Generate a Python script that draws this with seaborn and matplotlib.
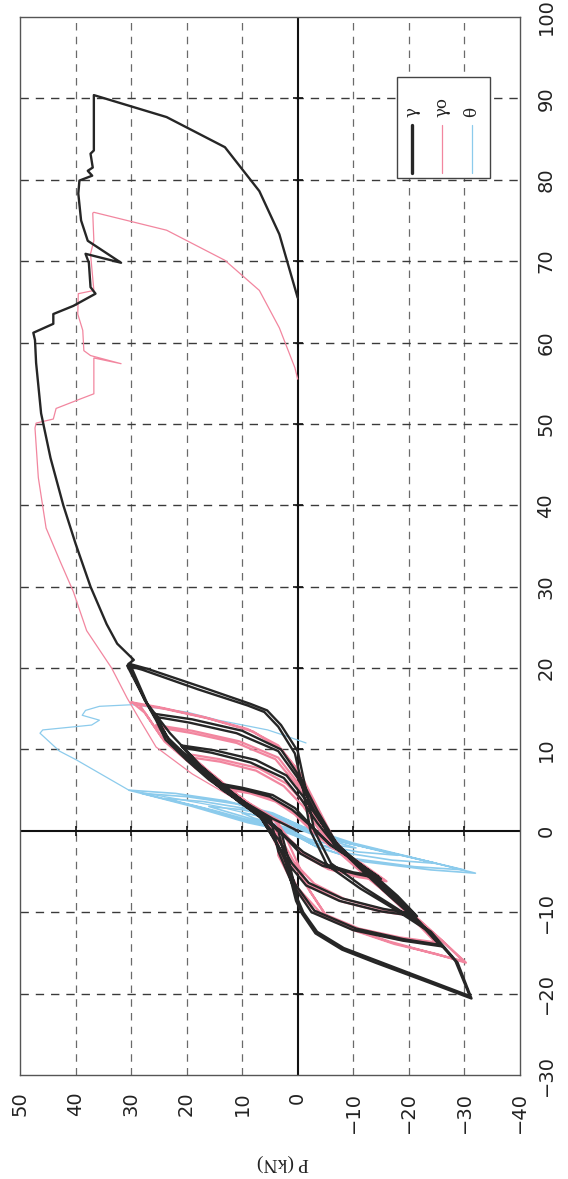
import numpy as np
import pandas as pd
import matplotlib
matplotlib.use("Agg")
import matplotlib.pyplot as plt
import seaborn as sns
from matplotlib.patches import Rectangle

# ---------------- data (displacement, load P in kN) ----------------
disp_ticks = [-30, -20, -10, 0, 10, 20, 30, 40, 50, 60, 70, 80, 90, 100]
load_ticks = [50, 40, 30, 20, 10, 0, -10, -20, -30, -40]

# gamma (black): cyclic loops, then monotonic envelope and unloading
gamma_c1 = [(0, 0), (1.5, 4.5), (3.5, 9.5), (5.5, 13.5), (5.1, 10), (4.2, 5), (2.6, 1), (0.8, -2),
            (-1.5, -5.5), (-3.5, -10), (-5.6, -14.5), (-5.1, -10), (-4.1, -5), (-2.6, -1), (-0.8, 2)]
gamma_c2 = [(1.5, 5.5), (3.6, 10), (5.8, 14), (5.3, 10), (4.4, 4.5), (2.8, 0.5), (0.6, -2.5),
            (-1.8, -6), (-3.8, -10.5), (-5.9, -15), (-5.3, -10.5), (-4.3, -4.5), (-2.8, -0.5), (-0.6, 2.5)]
gamma_c3 = [(2, 6.5), (5, 12.5), (8, 17.5), (10.2, 20.5), (9.6, 15.5), (8.4, 8.5), (6.5, 2.5), (4, -0.5),
            (1, -3.5), (-2, -7), (-5, -12.5), (-8, -17.5), (-10.2, -21), (-9.6, -15.5), (-8.3, -8),
            (-6.4, -2), (-4, 1), (-1, 3.5)]
gamma_c4 = [(2, 7), (5, 13), (8, 18), (10.5, 21), (9.9, 15), (8.7, 7.5), (6.8, 2), (4.2, -1),
            (1.2, -4), (-2, -7.5), (-5, -13), (-8, -18), (-10.5, -21.5), (-9.9, -15), (-8.6, -7.5),
            (-6.7, -1.5), (-4.2, 1.5), (-1.2, 4)]
gamma_c5 = [(2, 7), (5, 13.5), (8, 18.5), (11, 23), (14, 25.5), (13.3, 19.5), (12, 11), (9.8, 3.5),
            (6.5, 0), (2.5, -3), (-1.5, -6.5), (-4.5, -11), (-8, -16.5), (-11, -21.5), (-14, -25.5),
            (-13.3, -19), (-12, -10.5), (-9.8, -3), (-6.5, 0.5), (-2.5, 3)]
gamma_c6 = [(1.5, 6.5), (5, 13), (8.5, 19), (11.5, 23.5), (14.4, 26), (13.7, 19), (12.3, 10),
            (10, 3), (6.5, -0.5), (2.5, -3.5), (-1.5, -7), (-4.5, -11.5), (-8, -17), (-11.2, -22),
            (-14.2, -26), (-13.5, -19), (-12.2, -10), (-10, -2.5), (-6.5, 1), (-2.5, 3.5)]
gamma_c7 = [(1.3, 4.8), (3.4, 10), (6.3, 16), (8.7, 20), (11.2, 23.8), (13.6, 25.5), (15.8, 27.3),
            (20.3, 30.7), (19.8, 28),
            (17.4, 18), (15.4, 9), (14.6, 6), (12.8, 3.5), (9.5, 0.5), (5, -1), (0, -2.3),
            (-4.2, -5.3), (-7.1, -11.3), (-9.6, -17.4), (-12.4, -23.7), (-16, -28.4), (-20.3, -31),
            (-18.4, -23.7), (-16, -14.5), (-14.4, -8.3), (-12.4, -3.5), (-10, -1), (-8.4, 0), (-4, 1.5)]
gamma_c8 = [(0, 3), (3.5, 10.5), (7.5, 17.5), (11.5, 23.5), (15.5, 27), (20.5, 30.2), (19.9, 27),
            (17.6, 17), (15.6, 8.5), (14.8, 5.5), (13, 3), (9.8, 0), (5, -1.5), (0, -3), (-4, -6),
            (-7, -12), (-9.6, -18), (-12.4, -24), (-16.2, -28.8), (-20.6, -31.3), (-18.6, -23.5),
            (-16.2, -14), (-14.6, -8), (-12.6, -3.2), (-10.2, -0.8), (-8.6, 0.3), (-4, 2)]
gamma_env = [(0, 3.5), (4, 10.5), (8, 17.5), (12, 23), (16, 27.5), (20.5, 30.5), (21, 29.5),
             (23, 32.5), (25.4, 34.4), (30, 37.3), (35.3, 40), (40, 42.2), (45.8, 44.5), (51.3, 46.2),
             (57.5, 47.1), (60.3, 47.3), (61.2, 47.6), (62.3, 44), (63.5, 44), (64.5, 40.4),
             (66, 36.4), (66.8, 37.3), (69.8, 37.6), (70.9, 38.2), (69.8, 31.8), (72.5, 37.8),
             (75, 39), (78.3, 39.5), (79.9, 39.3), (80.5, 37), (81.1, 37.8), (81.5, 36.9),
             (83.2, 37.3), (83.6, 36.7), (90.4, 36.7), (87.7, 23.6), (84, 13.1), (78.6, 6.9),
             (73.3, 3.3), (66.7, 0.5), (65.5, 0)]

# gamma_o (pink)
gamma0_c1 = [(0, 0), (1.5, 4), (3.5, 9), (5, 12), (4.6, 8.5), (3.6, 4), (2, 0.5), (0, -2.5), (-2, -6),
             (-4, -11), (-6, -15.5), (-5.5, -11), (-4.5, -5.5), (-3, -1.5), (-1, 1.5)]
gamma0_c2 = [(1.5, 4.5), (3.5, 9.5), (5.3, 12.5), (4.8, 8.5), (3.8, 4), (2.2, 0.5), (0, -3),
             (-2, -6.5), (-4, -11.5), (-6.2, -16), (-5.7, -11), (-4.7, -5.5), (-3.2, -1.5), (-1, 2)]
gamma0_c3 = [(2, 6), (4.5, 11), (7, 15.5), (9, 19), (8.5, 14), (7.4, 7.5), (5.5, 2.5), (3, -1),
             (0, -4), (-3, -8), (-6, -13), (-8.5, -17.5), (-10.2, -20.5), (-9.6, -15), (-8.4, -8.5),
             (-6.5, -3), (-4, 0.5), (-1, 3)]
gamma0_c4 = [(2, 6.5), (4.8, 11.5), (7.3, 16), (9.4, 19.5), (8.8, 14), (7.7, 7), (5.8, 2),
             (3.2, -1.5), (0, -4.5), (-3, -8.5), (-6, -13.5), (-8.6, -18), (-10.5, -21), (-9.9, -15),
             (-8.7, -8), (-6.8, -2.5), (-4.2, 1), (-1, 3.5)]
gamma0_c5 = [(2, 6.5), (5, 12.5), (8, 18), (10.5, 22.5), (12.7, 25), (12, 19), (10.8, 11), (8.8, 4),
             (5.5, 0), (2, -3), (-2, -7), (-5.5, -12.5), (-9, -18), (-11.7, -22), (-13.7, -24.8),
             (-13.1, -18.5), (-12, -11), (-10, -4), (-7, 0), (-3, 3)]
gamma0_c6 = [(1.5, 6), (5, 13), (8.2, 19), (10.8, 23), (13, 25.5), (12.3, 19), (11, 10.5),
             (9, 3.5), (5.5, -0.5), (2, -3.5), (-2, -7.5), (-5.5, -13), (-9, -18.5), (-12, -22.5),
             (-14, -25.5), (-13.4, -18.5), (-12.2, -10.5), (-10.2, -3.5), (-7, 0.5), (-3, 3.5)]
gamma0_c7 = [(1, 3.5), (3.8, 10), (7.5, 18), (11, 24), (14, 27), (15.5, 28.5), (15.8, 30),
             (15.2, 25), (14, 17), (12.5, 9), (10.5, 3.5), (7.5, 0), (3, -3), (-1, -6), (-4, -10),
             (-7.5, -16), (-10.5, -21), (-13.5, -26), (-16.2, -30.3), (-15.1, -24.8), (-13.9, -17.4),
             (-12.2, -10), (-10.6, -5.3), (-7.4, -2.2), (-4, 0), (-1, 2)]
gamma0_c8 = [(1, 3.5), (4, 10.5), (7.8, 18.5), (11.5, 24.5), (14.5, 27.5), (15.6, 29.5),
             (15, 24), (13.8, 16), (12.2, 8), (10, 3), (7, -0.5), (3, -3.5), (-1, -6.5), (-4.5, -11),
             (-8, -17), (-11, -22), (-13.8, -26.5), (-16, -29.8), (-15, -24), (-13.6, -16.5),
             (-12, -9.5), (-10.3, -5), (-7, -1.8), (-4, 0.5)]
gamma0_env = [(1, 3), (3.8, 11), (7, 19), (10.3, 25.5), (13.5, 28.3), (16.3, 30.7), (20, 33.5),
              (24.6, 38), (29.4, 40.4), (33, 42.7), (37.2, 45.3), (43.4, 46.7), (49.5, 47.3),
              (50.1, 47.1), (50.6, 44), (51.9, 43.5), (53.1, 39), (53.7, 36.7), (58.1, 36.7),
              (57.4, 31.8), (58.4, 37.3), (59, 38.5), (61.5, 38.7), (63.5, 39.6), (66, 39.5),
              (66.4, 36.7), (70.9, 37.3), (72.5, 36.7), (75.9, 36.9), (76, 36.7), (73.8, 23.6),
              (70.1, 13.1), (66.4, 6.9), (61.8, 3.3), (56.9, 0.5), (55.5, 0)]

# theta (light blue)
theta_c1 = [(0, 0), (0.8, 4), (1.6, 8), (2.2, 10), (1.8, 6), (1, 2), (0, -1), (-0.8, -4), (-1.6, -8),
            (-2.1, -10.5), (-1.7, -6), (-1, -2), (0, 1)]
theta_c2 = [(1, 6), (2, 11), (3, 16), (2.6, 10), (1.7, 4), (0.5, -0.5), (-0.8, -5), (-2, -12),
            (-3, -18), (-2.6, -11), (-1.8, -4.5), (-0.6, 0.5)]
theta_c3 = [(1, 7), (2.5, 15), (4, 24), (3.6, 17), (2.7, 9), (1.4, 2.5), (0, -1.5), (-1.2, -7),
            (-2.6, -16), (-4, -25), (-3.6, -17), (-2.7, -8.5), (-1.3, -2), (0, 1.5)]
theta_c4 = [(1, 8), (2.8, 17), (4.6, 28), (4.2, 20), (3.3, 11), (1.8, 3.5), (0.3, -1.5), (-1.5, -9),
            (-3.2, -20), (-4.8, -30), (-4.4, -21), (-3.4, -10), (-1.8, -3), (0, 2)]
theta_c5 = [(1, 9), (3, 19), (5, 30.4), (4.6, 22), (3.7, 13), (2.2, 4.5), (0.5, -1), (-1.5, -10),
            (-3.5, -22), (-5.2, -32), (-4.8, -24), (-3.8, -12), (-2, -3.5), (0, 2)]
theta_last = [(0, 2), (0.6, 0), (3, 14.3), (5, 30.4), (8.7, 39.8), (9.8, 42.9), (12, 46.4), (12.4, 45.9),
              (13, 37.1), (13.6, 35.7), (14.2, 38.8), (14.8, 38.2), (15.3, 35.7), (15.5, 29.8),
              (14.6, 20), (13.6, 14.3), (12.4, 5.4), (11.7, 2.3), (10.8, -1.5)]

gamma_loops = [gamma_c1, gamma_c2, gamma_c3, gamma_c4, gamma_c5, gamma_c6, gamma_c7, gamma_c8]
gamma0_loops = [gamma0_c1, gamma0_c2, gamma0_c3, gamma0_c4, gamma0_c5, gamma0_c6, gamma0_c7, gamma0_c8]
theta_loops = [theta_c1, theta_c2, theta_c3, theta_c4, theta_c5]

colors = {"gamma": "#262626", "gamma0": "#f2869f", "theta": "#8ccbec"}

# ---------------- figure ----------------
sns.set_style("white")
plt.rcParams["font.family"] = ["Liberation Sans Narrow", "DejaVu Sans"]
plt.rcParams["axes.unicode_minus"] = True

fig = plt.figure(figsize=(5.68, 11.79), dpi=100)
ax = fig.add_axes([0.0352, 0.0882, 0.880, 0.8974])

# grid
dash = (0, (6, 5))
inner_loads = [p for p in load_ticks[1:-1] if p != 0]
inner_disps = [d for d in disp_ticks[1:-1] if d != 0]
for p in inner_loads:
    ax.axvline(p, color="#6a6a6a", lw=0.9, ls=dash, zorder=1)
for d in inner_disps:
    ax.axhline(d, color="#3a3a3a", lw=1.0, ls=dash, zorder=1)
ax.axvline(0, color="#111111", lw=1.5, zorder=2)
ax.axhline(0, color="#111111", lw=1.5, zorder=2)
ax.plot(inner_loads, [0] * len(inner_loads), ls="none", marker="|",
        ms=7, mew=1.2, color="#111111", zorder=2)
ax.plot([0] * len(inner_disps), inner_disps, ls="none", marker="_",
        ms=7, mew=1.2, color="#111111", zorder=2)


def draw(segments, color, lw, z):
    pts = [pt for seg in segments for pt in seg]
    df = pd.DataFrame(pts, columns=["disp", "load"])
    sns.lineplot(data=df, x="load", y="disp", sort=False, estimator=None, ax=ax,
                 color=color, linewidth=lw, zorder=z)


# curves (rotated: load on horizontal, displacement on vertical)
draw(theta_loops, colors["theta"], 1.2, 3)
draw([theta_last], colors["theta"], 0.9, 3)
draw(gamma0_loops, colors["gamma0"], 1.6, 4)
draw([gamma0_env], colors["gamma0"], 0.9, 4)
draw(gamma_loops + [gamma_env], colors["gamma"], 1.7, 5)

ax.set_xlim(50, -40)
ax.set_ylim(-30, 100)
ax.set_xlabel("")
ax.set_ylabel("")


def fmt(v):
    return str(v).replace("-", "\u2212")


ax.set_xticks(load_ticks)
ax.set_xticklabels([fmt(v) for v in load_ticks])
ax.yaxis.tick_right()
ax.set_yticks(disp_ticks)
ax.set_yticklabels([fmt(v) for v in disp_ticks])
ax.tick_params(axis="x", labelrotation=90, length=0, pad=12, labelsize=14, colors="#222222")
ax.tick_params(axis="y", labelrotation=90, length=0, pad=12, labelsize=14, colors="#222222",
               left=False, right=False, labelleft=False, labelright=True)
for lab in ax.get_yticklabels():
    lab.set_verticalalignment("center")

for s in ax.spines.values():
    s.set_color("#555555")
    s.set_linewidth(1.0)

# legend (drawn rotated like the rest of the chart)
ax.add_patch(Rectangle((0.754, 0.848), 0.186, 0.095, transform=ax.transAxes,
                       facecolor="white", edgecolor="#444444", lw=1.0, zorder=6))
leg_items = [("γ", 0.784, colors["gamma"], 2.4), ("γo", 0.845, colors["gamma0"], 0.9),
             ("θ", 0.904, colors["theta"], 0.9)]
for lab, xf, col, lw in leg_items:
    ax.plot([xf, xf], [0.853, 0.898], transform=ax.transAxes, zorder=7, color=col, lw=lw)
    ax.text(xf, 0.905, lab, transform=ax.transAxes, rotation=90, ha="center", va="bottom",
            fontsize=12, family=["DejaVu Serif"], color="#222222", zorder=7)

fig.text(283 / 568, 1 - 1163 / 1179, "P (kN)", rotation=180, ha="center", va="center",
         fontsize=14, family=["Liberation Serif", "DejaVu Serif"], color="#222222")

fig.savefig("out.png", dpi=100, facecolor="white")
